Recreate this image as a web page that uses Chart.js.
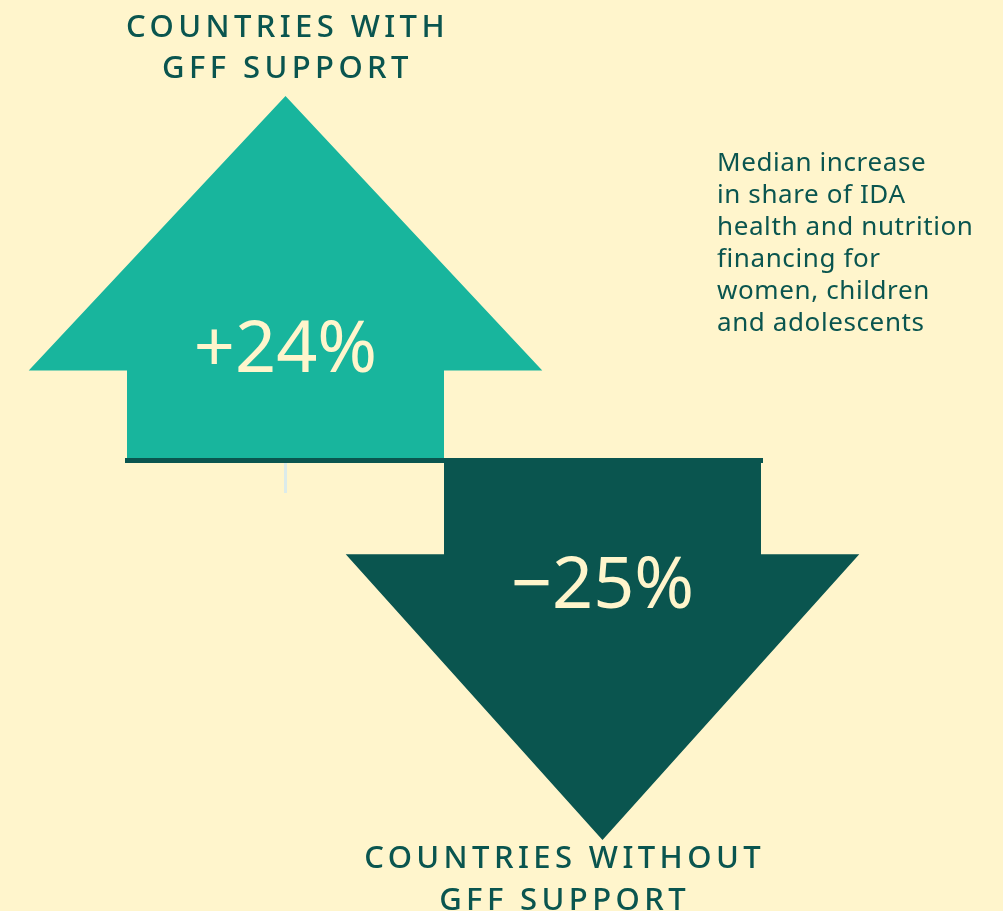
<!DOCTYPE html>
<html>
<head>
<meta charset="utf-8">
<script src="https://cdn.jsdelivr.net/npm/chart.js@4.4.0/dist/chart.umd.min.js"></script>
<style>
  html, body { margin: 0; padding: 0; background: #FFF5CC; }
  #wrap { width: 1003px; height: 911px; position: relative; }
</style>
</head>
<body>
<div id="wrap"><canvas id="arrowChart"></canvas></div>
<script>
const groups = ['Countries with GFF support', 'Countries without GFF support'];
const groupTitles = [['COUNTRIES WITH', 'GFF SUPPORT'], ['COUNTRIES WITHOUT', 'GFF SUPPORT']];
const changePct = [24, -25];
const valueLabels = ['+24%', '\u221225%'];
const noteLines = ['Median increase', 'in share of IDA', 'health and nutrition', 'financing for', 'women, children', 'and adolescents'];

const teal = '#18B59D';
const darkGreen = '#0A554F';
const cream = '#FFF5CC';
const arrowColors = [teal, darkGreen];
const labelPos = [0.30, 0.335];
const fontFamily = '"Noto Sans", sans-serif';

// bars are drawn as arrows: shaft + triangular head ending at the value
const arrowPlugin = {
  id: 'arrows',
  afterDatasetsDraw(chart) {
    const ctx = chart.ctx;
    const meta = chart.getDatasetMeta(0);
    meta.data.forEach((bar, i) => {
      const half = bar.width / 2;
      const headHalf = half * 1.62;
      const neck = bar.base + (bar.y - bar.base) * 0.247;
      ctx.save();
      ctx.fillStyle = arrowColors[i];
      ctx.beginPath();
      ctx.moveTo(bar.x - half, bar.base);
      ctx.lineTo(bar.x - half, neck);
      ctx.lineTo(bar.x - headHalf, neck);
      ctx.lineTo(bar.x, bar.y);
      ctx.lineTo(bar.x + headHalf, neck);
      ctx.lineTo(bar.x + half, neck);
      ctx.lineTo(bar.x + half, bar.base);
      ctx.closePath();
      ctx.fill();

      ctx.fillStyle = cream;
      ctx.font = '400 72px ' + fontFamily;
      ctx.textAlign = 'center';
      ctx.textBaseline = 'middle';
      ctx.fillText(valueLabels[i], bar.x, bar.base + (bar.y - bar.base) * labelPos[i]);
      ctx.restore();
    });
  },
  afterDraw(chart) {
    const ctx = chart.ctx;
    const meta = chart.getDatasetMeta(0);
    ctx.save();
    ctx.fillStyle = darkGreen;
    ctx.textBaseline = 'middle';
    ctx.textAlign = 'center';
    ctx.font = '500 31px ' + fontFamily;
    ctx.letterSpacing = '4.4px';

    // top title over the up arrow
    const up = meta.data[0];
    ctx.fillText(groupTitles[0][0], up.x + 2, up.y - 68);
    ctx.fillText(groupTitles[0][1], up.x + 2, up.y - 27);

    // bottom title, right edge lined up with the down arrow's shaft
    const down = meta.data[1];
    const w = Math.max(...groupTitles[1].map(t => ctx.measureText(t).width));
    const cx = down.x + down.width / 2 - w / 2 + 4;
    ctx.fillText(groupTitles[1][0], cx, down.y + 19);
    ctx.fillText(groupTitles[1][1], cx, down.y + 61);

    // side note
    ctx.letterSpacing = '0.6px';
    ctx.textAlign = 'left';
    ctx.font = '400 26px ' + fontFamily;
    noteLines.forEach((line, k) => {
      ctx.fillText(line, 717, 164 + k * 32);
    });
    ctx.restore();
  }
};

new Chart(document.getElementById('arrowChart'), {
  type: 'bar',
  data: {
    labels: groups,
    datasets: [{
      data: changePct,
      backgroundColor: 'rgba(0,0,0,0)',
      borderWidth: 0,
      barPercentage: 1,
      categoryPercentage: 1
    }]
  },
  options: {
    responsive: true,
    maintainAspectRatio: false,
    animation: false,
    layout: {
      padding: { left: 127, right: 242, top: 96, bottom: 71 }
    },
    plugins: {
      legend: { display: false },
      tooltip: { enabled: false }
    },
    scales: {
      x: {
        position: { y: 0 },
        ticks: { display: false },
        grid: {
          offset: false,
          drawOnChartArea: false,
          drawTicks: true,
          tickLength: 30,
          lineWidth: 3,
          color: (c) => c.index === 0 ? '#DCEBEA' : 'rgba(0,0,0,0)'
        },
        border: { display: true, color: darkGreen, width: 5, z: 1 }
      },
      y: {
        display: false,
        min: -25,
        max: 24
      }
    }
  },
  plugins: [arrowPlugin]
});
</script>
</body>
</html>
